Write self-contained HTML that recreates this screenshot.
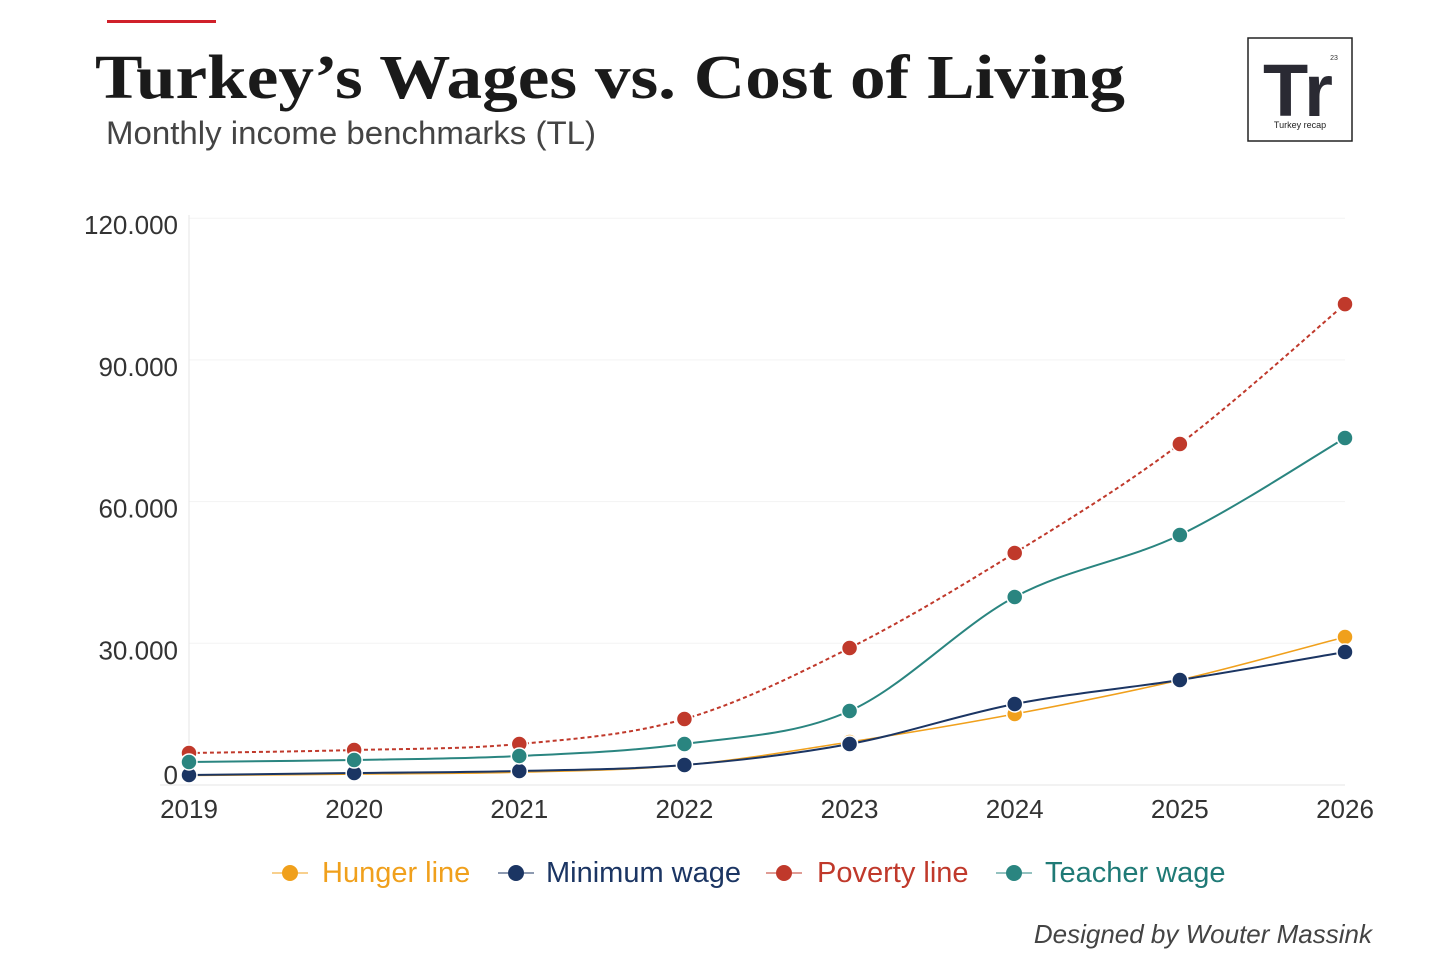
<!DOCTYPE html>
<html><head><meta charset="utf-8"><style>
body{margin:0;background:#fff;width:1456px;height:971px;overflow:hidden;font-family:"Liberation Sans",sans-serif}
</style></head><body>
<svg width="1456" height="971" id="svg">
<rect x="107" y="20" width="109" height="3" fill="#d0202a"/>
<text x="95" y="98" font-family="Liberation Serif,serif" font-weight="bold" font-size="62" fill="#1a1a1a" textLength="1030" lengthAdjust="spacingAndGlyphs">Turkey’s Wages vs. Cost of Living</text>
<text x="106" y="144" font-size="32" fill="#444" textLength="490" lengthAdjust="spacingAndGlyphs">Monthly income benchmarks (TL)</text>
<g>
<rect x="1248" y="38" width="104" height="103" fill="#fff" stroke="#222" stroke-width="1.5"/>
<text x="1298" y="116" text-anchor="middle" font-size="74" font-weight="bold" fill="#2a2a33">Tr</text>
<text x="1334" y="60" text-anchor="middle" font-size="7" fill="#333">23</text>
<text x="1300" y="128" text-anchor="middle" font-size="9" fill="#222">Turkey recap</text>
</g>
<g id="grid"></g><g id="series"></g><g id="axes"></g>
<g font-size="29">
<g><line x1="272" x2="308" y1="873" y2="873" stroke="#f0a01c"/><circle cx="290" cy="873" r="8" fill="#f0a01c"/><text x="322" y="882" fill="#f0a01c">Hunger line</text></g>
<g><line x1="498" x2="534" y1="873" y2="873" stroke="#1b3563"/><circle cx="516" cy="873" r="8" fill="#1b3563"/><text x="546" y="882" fill="#1b3563">Minimum wage</text></g>
<g><line x1="766" x2="802" y1="873" y2="873" stroke="#c0392b"/><circle cx="784" cy="873" r="8" fill="#c0392b"/><text x="817" y="882" fill="#c0392b">Poverty line</text></g>
<g><line x1="996" x2="1032" y1="873" y2="873" stroke="#2a8580"/><circle cx="1014" cy="873" r="8" fill="#2a8580"/><text x="1045" y="882" fill="#1f7a76">Teacher wage</text></g>
</g>
<text x="1372" y="943" text-anchor="end" font-size="26" font-style="italic" fill="#444">Designed by Wouter Massink</text>
</svg>
<script>
const years=[2019,2020,2021,2022,2023,2024,2025,2026];
const hunger=[2000,2300,2700,4200,9100,15030,22230,31330];
const minimum=[2120,2540,2960,4230,8680,17150,22230,28160];
const poverty=[6775,7400,8680,13970,29000,49120,72200,101800];
const teacher=[4870,5290,6140,8680,15670,39800,52930,73470];
const yTicks=[0,30000,60000,90000,120000];
const yTickLabels=["0","30.000","60.000","90.000","120.000"];
const NS="http://www.w3.org/2000/svg";
const x=i=>189+i*(1345-189)/(years.length-1);
const y=v=>785-v*(141.7/30000);
function mk(t,a,p){const e=document.createElementNS(NS,t);for(const k in a)e.setAttribute(k,a[k]);p.appendChild(e);return e;}
const grid=document.getElementById('grid'),axes=document.getElementById('axes'),ser=document.getElementById('series');
yTicks.forEach((v,i)=>{
 if(v>0){const l=mk('line',{x1:189,x2:1345,y1:y(v),y2:y(v),stroke:'#f3f3f3'},grid);
 
 }
 const t=mk('text',{x:178,y:(v===0?y(v)-1:y(v)+16),'text-anchor':'end','font-size':'26',fill:'#333'},axes);
 t.textContent=yTickLabels[i];
 
 
});
const yl=mk('line',{x1:189,x2:189,y1:215,y2:785,stroke:'#e6e6e6'},grid);


const xl=mk('line',{x1:160,x2:1345,y1:785,y2:785,stroke:'#e6e6e6'},grid);


years.forEach((yr,i)=>{const t=mk('text',{x:x(i),y:818,'text-anchor':'middle','font-size':'26',fill:'#333'},axes);
 t.textContent=yr;
 
 });
function path(vals){
 const P=vals.map((v,i)=>[x(i),y(v)]);let d=`M${P[0][0]},${P[0][1]}`;
 for(let i=0;i<P.length-1;i++){const p0=P[Math.max(i-1,0)],p1=P[i],p2=P[i+1],p3=P[Math.min(i+2,P.length-1)];
  const c1=[p1[0]+(p2[0]-p0[0])/6,p1[1]+(p2[1]-p0[1])/6],c2=[p2[0]-(p3[0]-p1[0])/6,p2[1]-(p3[1]-p1[1])/6];
  d+=`C${c1[0]},${c1[1]} ${c2[0]},${c2[1]} ${p2[0]},${p2[1]}`;}
 return d;}
function series(name,vals,color,w,dash){
 const g=mk('g',{},ser);
 
 
 const p=mk('path',{d:path(vals),fill:'none',stroke:color,'stroke-width':w},g);
 if(dash)p.setAttribute('stroke-dasharray',dash);
 
 
 vals.forEach((v,i)=>{const c=mk('circle',{cx:x(i),cy:y(v),r:8,fill:color,stroke:'#fff','stroke-width':1.5},g);
  
  });
}
series('hunger',hunger,'#f0a01c',1.5);
series('minimum-wage',minimum,'#1b3563',2);
series('poverty',poverty,'#c0392b',2,'4 3');
series('teacher',teacher,'#2a8580',2);
</script>
</body></html>
